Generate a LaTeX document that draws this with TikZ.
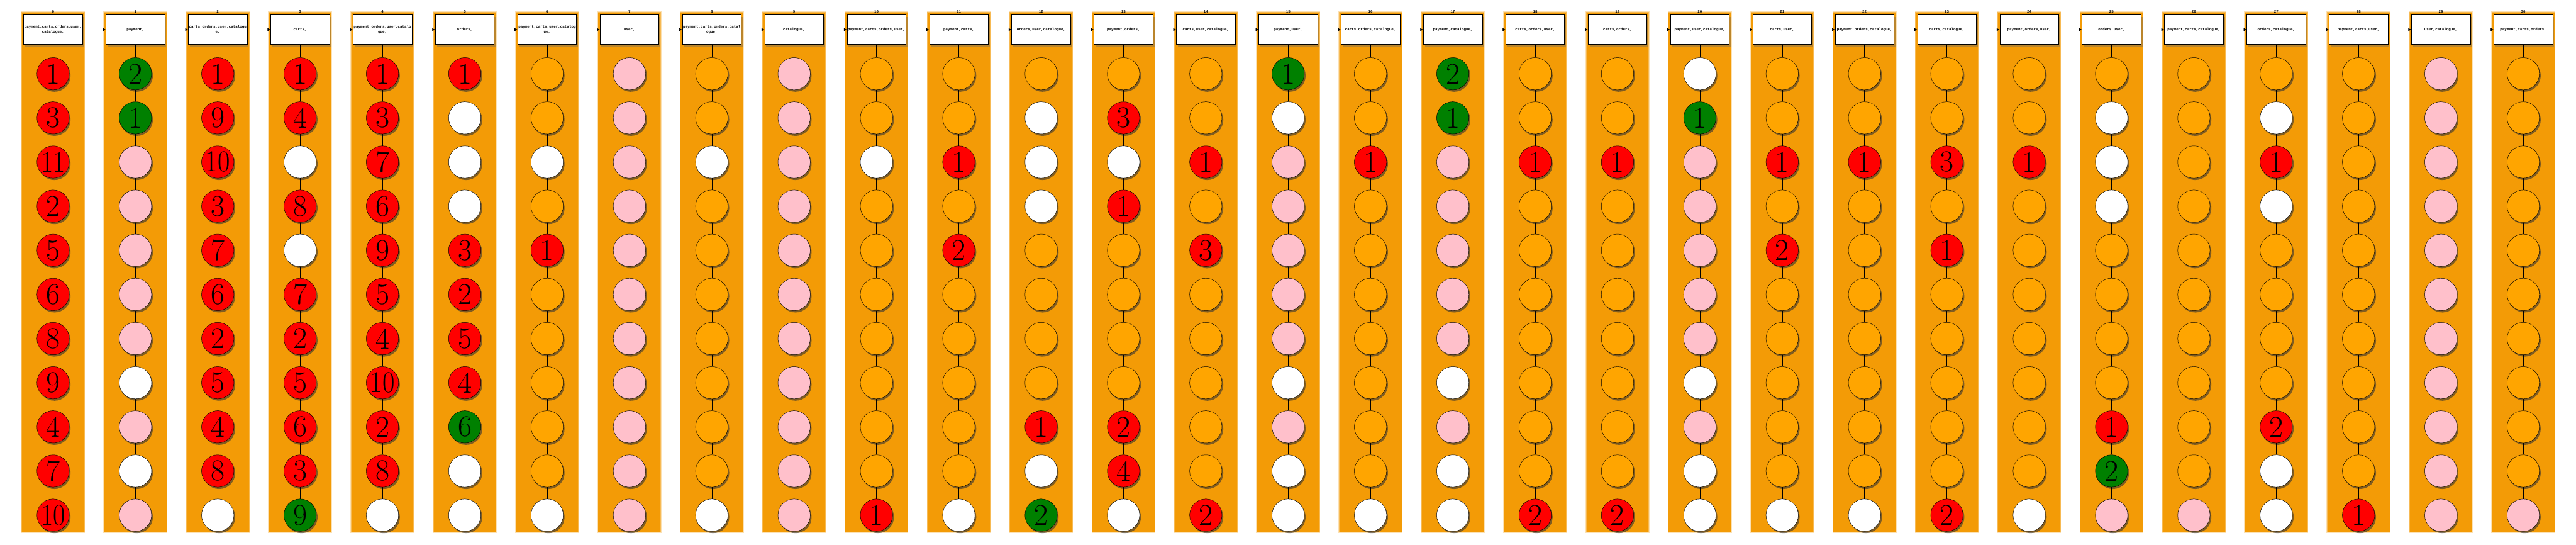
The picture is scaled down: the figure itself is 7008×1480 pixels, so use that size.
\documentclass[tikz,border=0pt]{standalone}
\usepackage{fontspec}
\newfontfamily\hdrfont{Liberation Mono}
\usetikzlibrary{shadows,arrows.meta}
\definecolor{cR}{HTML}{FF0000}
\definecolor{cG}{HTML}{008000}
\definecolor{cP}{HTML}{FFC0CB}
\definecolor{cW}{HTML}{FFFFFF}
\definecolor{cO}{HTML}{FFA500}
\definecolor{colbg}{HTML}{F39B06}
\tikzset{
  hdrbox/.style={draw=black, line width=0.5pt, fill=white, minimum width=80pt, minimum height=40pt,
    inner sep=0pt, align=center, font=\hdrfont\bfseries\fontsize{5pt}{6.5pt}\selectfont,
    drop shadow={shadow xshift=2pt, shadow yshift=-3pt, opacity=0.4, fill=black!60}},
  numlbl/.style={font=\hdrfont\bfseries\fontsize{5pt}{6pt}\selectfont, inner sep=0pt},
  ball/.style={circle, draw=black, line width=0.4pt, minimum size=44pt, inner sep=0pt,
    font=\fontsize{41pt}{41pt}\selectfont,
    drop shadow={shadow xshift=1.8pt, shadow yshift=-2.5pt, opacity=0.6, fill=black!80}},
  link/.style={draw=black, line width=0.45pt},
  flow/.style={draw=black, line width=0.55pt, -{Latex[length=4pt,width=4.5pt]}},
}
\newcommand{\sq}[1]{\scalebox{0.88}[1]{#1}}
\begin{document}
\begin{tikzpicture}[x=0.5pt,y=-0.5pt]
\useasboundingbox (0,0) rectangle (7008,1480);
\foreach \c/\hd/\data in {
0/{payment,carts,orders,user,\\catalogue,}/{R/1,R/3,R/\sq{11},R/2,R/5,R/6,R/8,R/9,R/4,R/7,R/\sq{10}},
1/{payment,}/{G/2,G/1,P/,P/,P/,P/,P/,W/,P/,W/,P/},
2/{carts,orders,user,catalogu\\e,}/{R/1,R/9,R/\sq{10},R/3,R/7,R/6,R/2,R/5,R/4,R/8,W/},
3/{carts,}/{R/1,R/4,W/,R/8,W/,R/7,R/2,R/5,R/6,R/3,G/9},
4/{payment,orders,user,catalo\\gue,}/{R/1,R/3,R/7,R/6,R/9,R/5,R/4,R/\sq{10},R/2,R/8,W/},
5/{orders,}/{R/1,W/,W/,W/,R/3,R/2,R/5,R/4,G/6,W/,W/},
6/{payment,carts,user,catalog\\ue,}/{O/,O/,W/,O/,R/1,O/,O/,O/,O/,O/,W/},
7/{user,}/{P/,P/,P/,P/,P/,P/,P/,P/,P/,P/,P/},
8/{payment,carts,orders,catal\\ogue,}/{O/,O/,W/,O/,O/,O/,O/,O/,O/,O/,W/},
9/{catalogue,}/{P/,P/,P/,P/,P/,P/,P/,P/,P/,P/,P/},
10/{payment,carts,orders,user,}/{O/,O/,W/,O/,O/,O/,O/,O/,O/,O/,R/1},
11/{payment,carts,}/{O/,O/,R/1,O/,R/2,O/,O/,O/,O/,O/,W/},
12/{orders,user,catalogue,}/{O/,W/,W/,W/,O/,O/,O/,O/,R/1,W/,G/2},
13/{payment,orders,}/{O/,R/3,W/,R/1,O/,O/,O/,O/,R/2,R/4,W/},
14/{carts,user,catalogue,}/{O/,O/,R/1,O/,R/3,O/,O/,O/,O/,O/,R/2},
15/{payment,user,}/{G/1,W/,P/,P/,P/,P/,P/,W/,P/,W/,W/},
16/{carts,orders,catalogue,}/{O/,O/,R/1,O/,O/,O/,O/,O/,O/,O/,W/},
17/{payment,catalogue,}/{G/2,G/1,P/,P/,P/,P/,P/,W/,P/,W/,W/},
18/{carts,orders,user,}/{O/,O/,R/1,O/,O/,O/,O/,O/,O/,O/,R/2},
19/{carts,orders,}/{O/,O/,R/1,O/,O/,O/,O/,O/,O/,O/,R/2},
20/{payment,user,catalogue,}/{W/,G/1,P/,P/,P/,P/,P/,W/,P/,W/,W/},
21/{carts,user,}/{O/,O/,R/1,O/,R/2,O/,O/,O/,O/,O/,W/},
22/{payment,orders,catalogue,}/{O/,O/,R/1,O/,O/,O/,O/,O/,O/,O/,W/},
23/{carts,catalogue,}/{O/,O/,R/3,O/,R/1,O/,O/,O/,O/,O/,R/2},
24/{payment,orders,user,}/{O/,O/,R/1,O/,O/,O/,O/,O/,O/,O/,W/},
25/{orders,user,}/{O/,W/,W/,W/,O/,O/,O/,O/,R/1,G/2,P/},
26/{payment,carts,catalogue,}/{O/,O/,O/,O/,O/,O/,O/,O/,O/,O/,P/},
27/{orders,catalogue,}/{O/,W/,R/1,W/,O/,O/,O/,O/,R/2,W/,W/},
28/{payment,carts,user,}/{O/,O/,O/,O/,O/,O/,O/,O/,O/,O/,R/1},
29/{user,catalogue,}/{P/,P/,P/,P/,P/,P/,P/,P/,P/,P/,P/},
30/{payment,carts,orders,}/{O/,O/,O/,O/,O/,O/,O/,O/,O/,O/,P/}}
{
  \pgfmathsetmacro\xc{144.4+224*\c}
  % column background with soft edge
  \fill[colbg,opacity=0.3] (\xc-87,31) rectangle (\xc+87,1449);
  \fill[colbg,opacity=0.55] (\xc-86,32.5) rectangle (\xc+86,1447.5);
  \fill[colbg] (\xc-84.5,34.5) rectangle (\xc+84.5,1445.5);
  \node[numlbl] (t\c) at (\xc,31) {\c};
  \node[hdrbox] (h\c) at (\xc,80.5) {\hd};
  \foreach \k/\l [count=\r from 0] in \data {
    \node[ball, fill=c\k] (n\c-\r) at (\xc,200.5+120*\r) {\l};
  }
  \draw[link] (h\c) -- (n\c-0);
  \foreach \r [evaluate=\r as \rn using int(\r+1)] in {0,...,9} {
    \draw[link] (n\c-\r) -- (n\c-\rn);
  }
}
\foreach \c [evaluate=\c as \cn using int(\c+1)] in {0,...,29} {
  \draw[flow] (h\c.east) -- (h\cn.west);
}
\end{tikzpicture}
\end{document}
